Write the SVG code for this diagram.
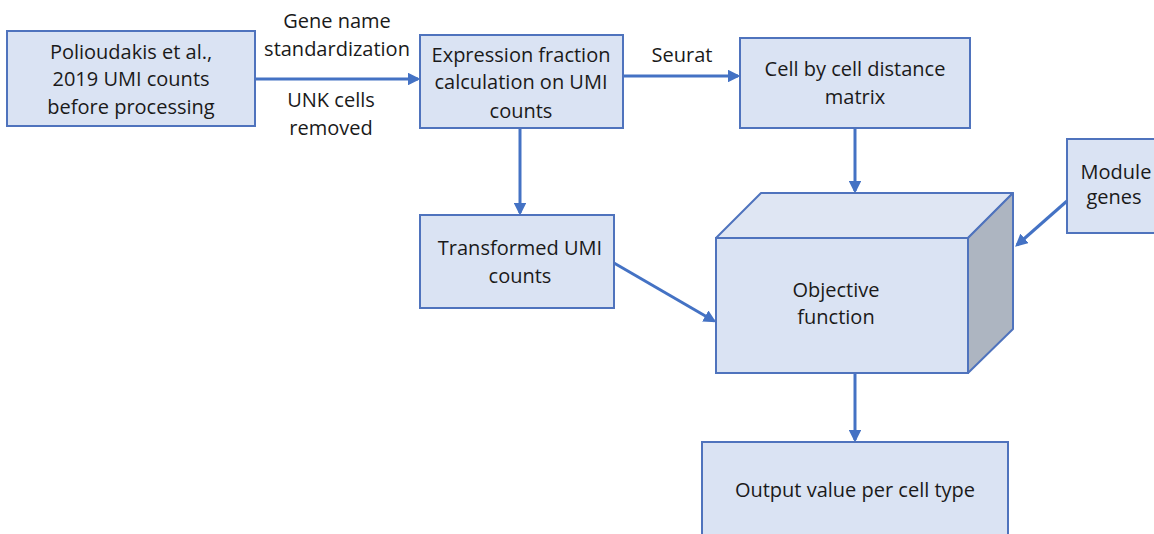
<svg xmlns="http://www.w3.org/2000/svg" width="1154" height="534" viewBox="0 0 1154 534">
  <style>
    .box { fill: #DAE3F3; stroke: #4F73BD; stroke-width: 2; }
    .top { fill: #DFE6F3; stroke: #4F73BD; stroke-width: 2; stroke-linejoin: round; }
    .side { fill: #ADB5C1; stroke: #4F73BD; stroke-width: 2; stroke-linejoin: round; }
    .lbl { font-family: "Open Sans", "Liberation Sans", sans-serif; font-size: 20px; fill: #1A1A1A; text-anchor: middle; }
    .conn { stroke: #4472C4; stroke-width: 3; fill: none; marker-end: url(#arrow); }
  </style>
  <defs>
    <marker id="arrow" viewBox="0 0 10 10" refX="8" refY="5" markerWidth="4.2" markerHeight="4.2" orient="auto" markerUnits="strokeWidth">
      <path d="M0,0 L10,5 L0,10 z" fill="#4472C4"/>
    </marker>
  </defs>
  <rect width="1154" height="534" fill="#FFFFFF"/>

  <g id="connectors">
    <line class="conn" x1="255" y1="79" x2="418" y2="79"/>
    <line class="conn" x1="623" y1="76" x2="738" y2="76"/>
    <line class="conn" x1="520" y1="128" x2="520" y2="213"/>
    <line class="conn" x1="855" y1="128" x2="855" y2="191"/>
    <line class="conn" x1="1067" y1="201" x2="1017" y2="245"/>
    <line class="conn" x1="614" y1="263" x2="714" y2="321"/>
    <line class="conn" x1="855" y1="373" x2="855" y2="440"/>
    <text class="lbl" x="337" y="28">Gene name</text>
    <text class="lbl" x="337" y="56">standardization</text>
    <text class="lbl" x="331" y="107">UNK cells</text>
    <text class="lbl" x="331" y="135">removed</text>
    <text class="lbl" x="682" y="62">Seurat</text>
  </g>

  <g id="source">
    <rect class="box" x="7" y="31" width="248" height="95"/>
    <text class="lbl" x="131" y="59">Polioudakis et al.,</text>
    <text class="lbl" x="131" y="86">2019 UMI counts</text>
    <text class="lbl" x="131" y="114">before processing</text>
  </g>

  <g id="expression">
    <rect class="box" x="420" y="35" width="203" height="93"/>
    <text class="lbl" x="521" y="62">Expression fraction</text>
    <text class="lbl" x="521" y="89">calculation on UMI</text>
    <text class="lbl" x="521" y="118">counts</text>
  </g>

  <g id="distance">
    <rect class="box" x="740" y="38" width="230" height="90"/>
    <text class="lbl" x="855" y="76">Cell by cell distance</text>
    <text class="lbl" x="855" y="104">matrix</text>
  </g>

  <g id="transformed">
    <rect class="box" x="420" y="215" width="194" height="93"/>
    <text class="lbl" x="520" y="255">Transformed UMI</text>
    <text class="lbl" x="520" y="283">counts</text>
  </g>

  <g id="module">
    <rect class="box" x="1067" y="139" width="100" height="94"/>
    <text class="lbl" x="1116" y="179">Module</text>
    <text class="lbl" x="1114" y="204">genes</text>
  </g>

  <g id="objective">
    <polygon class="top" points="716,238 761,193 1013,193 968,238"/>
    <polygon class="side" points="968,238 1013,193 1013,329 968,373"/>
    <rect class="box" x="716" y="238" width="252" height="135"/>
    <text class="lbl" x="836" y="297">Objective</text>
    <text class="lbl" x="836" y="324">function</text>
  </g>

  <g id="output">
    <rect class="box" x="702" y="442" width="306" height="100"/>
    <text class="lbl" x="855" y="497">Output value per cell type</text>
  </g>
</svg>
